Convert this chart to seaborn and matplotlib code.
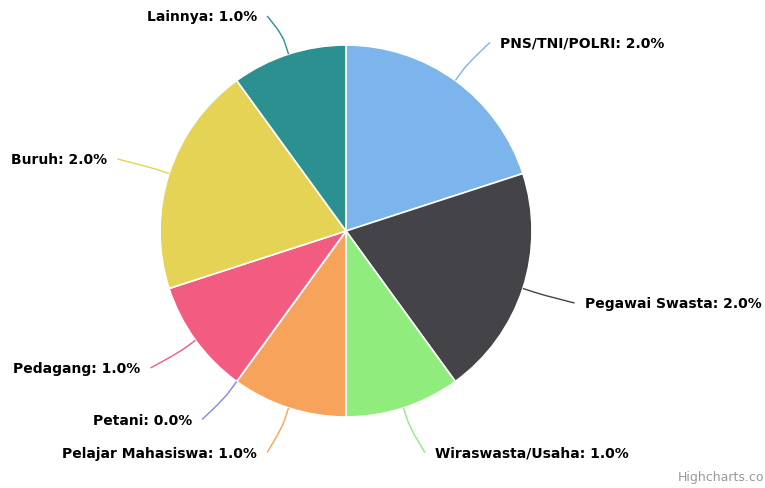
import numpy as np
import matplotlib
matplotlib.use("Agg")
import matplotlib.pyplot as plt
import seaborn as sns
from matplotlib.path import Path
from matplotlib.patches import PathPatch

categories = ["PNS/TNI/POLRI", "Pegawai Swasta", "Wiraswasta/Usaha", "Pelajar Mahasiswa",
              "Petani", "Pedagang", "Buruh", "Lainnya"]
values = [2.0, 2.0, 1.0, 1.0, 0.0, 1.0, 2.0, 1.0]
colors = ["#7cb5ec", "#434348", "#90ed7d", "#f7a35c", "#8085e9", "#f15c80", "#e4d354", "#2b908f"]

sns.set_theme(style="white")
plt.rcParams['font.family'] = ['DejaVu Sans']
palette = sns.color_palette(colors)

W, H = 765, 489
fig = plt.figure(figsize=(W / 100, H / 100), dpi=100)
ax = fig.add_axes([0, 0, 1, 1])
cx, cy, R = 346, H - 232, 186

wedges, _ = ax.pie(values, colors=palette, startangle=90, counterclock=False,
                   center=(cx, cy), radius=R,
                   wedgeprops=dict(edgecolor="white", linewidth=1.2))

for w, cat, val, col in zip(wedges, categories, values, palette):
    mid = np.deg2rad((w.theta1 + w.theta2) / 2)
    u = np.array([np.cos(mid), np.sin(mid)])
    c = np.array([cx, cy])
    E = c + R * u
    B = c + (R + 12) * u
    A = c + (R + 47) * u
    A[0] += 7 * np.sign(u[0])
    A[1] = min(A[1], H - 17)
    C2 = 2 * B - E
    verts = [A, A, C2, B, E]
    codes = [Path.MOVETO, Path.CURVE4, Path.CURVE4, Path.CURVE4, Path.LINETO]
    ax.add_patch(PathPatch(Path(verts, codes), facecolor="none", edgecolor=col, lw=1))
    right = u[0] >= 0
    ax.text(A[0] + (10 if right else -10), A[1], f"{cat}: {val:.1f}%",
            ha="left" if right else "right", va="center",
            fontsize=10, fontweight="bold", color="black")

ax.text(764, 11, "Highcharts.co", ha="right", va="center", fontsize=9, color="#999999")

ax.set_xlim(0, W)
ax.set_ylim(0, H)
ax.set_aspect("equal")
ax.axis("off")
fig.savefig("out.png", dpi=100, facecolor="white")
